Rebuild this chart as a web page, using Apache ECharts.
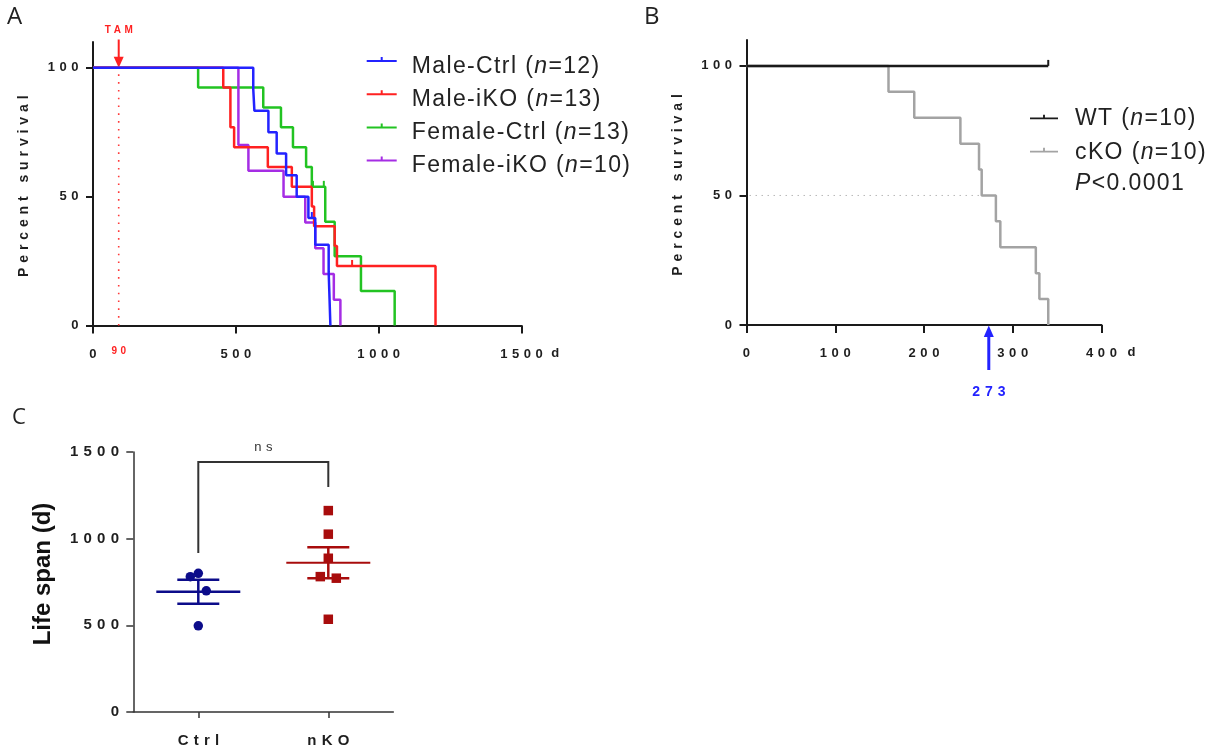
<!DOCTYPE html>
<html>
<head>
<meta charset="utf-8">
<script src="https://cdn.jsdelivr.net/npm/echarts@6/dist/echarts.min.js"></script>
<style>
  html, body { margin: 0; padding: 0; background: #ffffff; }
  #chart { width: 1225px; height: 753px; }
</style>
</head>
<body>
<div id="chart"></div>
<script>
// ---------- Panel A: inducible knockout survival (days) ----------
const groupsA = ['Male-Ctrl', 'Male-iKO', 'Female-Ctrl', 'Female-iKO'];
const groupSizesA = [12, 13, 13, 10];
const maleCtrlSteps = [[0, 100], [561, 91.7], [565, 83.3], [614, 75], [643, 66.7], [676, 58.3], [713, 50], [754, 41.7], [778, 31.3], [825, 20.8], [828, 10.4], [831, 0]];
const maleIkoSteps = [[0, 100], [456, 92.3], [481, 76.9], [494, 69.2], [612, 61.5], [696, 53.8], [766, 46.2], [774, 38.5], [846, 30.8], [854, 23.1], [1199, 0]];
const femaleCtrlSteps = [[0, 100], [368, 92.3], [596, 84.6], [658, 76.9], [700, 69.2], [746, 61.5], [766, 53.8], [813, 40.3], [846, 26.9], [938, 13.4], [1056, 0]];
const femaleIkoSteps = [[0, 100], [509, 70], [544, 60], [667, 50], [743, 40], [778, 30], [807, 20], [843, 10], [866, 0]];
const maleCtrlCensored = [[766, 41.7]];
const maleIkoCensored = [[907, 23.1]];
const femaleCtrlCensored = [[770, 53.8], [808, 53.8]];
const tamDay = 90;
const dayTicksA = [0, 500, 1000, 1500];
const survivalTicks = [0, 50, 100];

// ---------- Panel B: conditional knockout survival ----------
const groupsB = ['WT', 'cKO'];
const groupSizesB = [10, 10];
const wtSteps = [[0, 100], [340, 100]];
const ckoSteps = [[0, 100], [160, 90], [189, 80], [241, 70], [262, 60], [265, 50], [281, 40], [286, 30], [326, 20], [330, 10], [340, 0]];
const wtCensored = [[340, 100]];
const medianDayB = 273;
const dayTicksB = [0, 100, 200, 300, 400];

// ---------- Panel C: life span ----------
const lifespanGroups = ['Ctrl', 'nKO'];
const ctrlLifespan = [800, 781, 699, 497];
const nkoLifespan = [1162, 1026, 887, 781, 772, 535];
const lifespanTicks = [0, 500, 1000, 1500];

// horizontal spread of overlapping points (pixels)
const ctrlJitter = [0, -8, 8, 0];
const nkoJitter = [0, 0, 0, -8, 8, 0];

// Wide tracking for the small bold figure labels, lighter tracking for the legend text.
(function () {
  const proto = CanvasRenderingContext2D.prototype;
  if (!('letterSpacing' in proto)) return;
  const trackingFor = function (font) {
    if (font.indexOf('Liberation Sans') < 0) return 0;
    const m = /([\d.]+)px/.exec(font);
    const px = m ? parseFloat(m[1]) : 12;
    if (px <= 16) return px * 0.35;
    return /bold|[6-9]00/.test(font) ? 0 : px * 0.06;
  };
  ['fillText', 'strokeText', 'measureText'].forEach(function (fn) {
    const orig = proto[fn];
    proto[fn] = function () {
      this.letterSpacing = trackingFor(this.font) + 'px';
      return orig.apply(this, arguments);
    };
  });
})();

const FONT = 'Liberation Sans';
const INK = '#1a1a1a';
const BLUE = '#2323ff';
const RED = '#ff2121';
const GREEN = '#22c322';
const PURPLE = '#a52de4';
const GREY = '#a3a3a3';
const NAVY = '#0c0c8a';
const CRIMSON = '#a80c0c';

const plainNumber = function (v) { return String(v); };
const tickText = { fontFamily: FONT, fontWeight: 'bold', fontSize: 13, color: '#1e1e1e' };
const axisLine = { show: true, onZero: false, lineStyle: { color: INK, width: 2 } };
const legendIcon = 'path://M14,0h2v4h-2z M0,3h30v2h-30z';

function stepSeries(name, steps, color, axis) {
  return {
    name: name, type: 'line', xAxisIndex: axis, yAxisIndex: axis,
    data: steps, step: 'end', showSymbol: false, symbol: 'none',
    lineStyle: { color: color, width: 2.5 }, itemStyle: { color: color },
    z: 3, silent: true
  };
}
function censorSeries(name, points, color, axis) {
  return {
    name: name, type: 'scatter', xAxisIndex: axis, yAxisIndex: axis,
    data: points, symbol: 'rect', symbolSize: [2, 6], symbolOffset: [0, -3],
    itemStyle: { color: color, opacity: 1 }, z: 4, silent: true
  };
}
function meanSem(values) {
  const n = values.length;
  const mean = values.reduce(function (a, b) { return a + b; }, 0) / n;
  const sd = Math.sqrt(values.reduce(function (a, v) { return a + (v - mean) * (v - mean); }, 0) / (n - 1));
  return [mean, sd / Math.sqrt(n)];
}
function legendFormatter(names, sizes) {
  return function (name) {
    return name + ' ({i|n}=' + sizes[names.indexOf(name)] + ')';
  };
}
function legendText(padding) {
  return {
    fontFamily: FONT, fontWeight: 'normal', fontSize: 23, lineHeight: 22, color: '#222222', padding: padding,
    rich: { i: { fontFamily: FONT, fontWeight: 'normal', fontStyle: 'italic', fontSize: 23, lineHeight: 22, color: '#222222' } }
  };
}
function survivalYAxis(grid) {
  return {
    gridIndex: grid, type: 'value', min: 0, max: 110, interval: 50,
    axisLine: axisLine,
    axisTick: { show: true, length: 7, customValues: survivalTicks, lineStyle: { color: INK, width: 2 } },
    axisLabel: Object.assign({ margin: 10, customValues: survivalTicks, formatter: plainNumber }, tickText),
    splitLine: { show: false },
    name: 'Percent survival', nameLocation: 'middle', nameGap: 59,
    nameTextStyle: { fontFamily: FONT, fontWeight: 'bold', fontSize: 14, color: '#1e1e1e' }
  };
}
function dayXAxis(grid, ticks, gap) {
  return {
    gridIndex: grid, type: 'value', min: ticks[0], max: ticks[ticks.length - 1], interval: ticks[1] - ticks[0],
    axisLine: axisLine,
    axisTick: { show: true, length: 8, lineStyle: { color: INK, width: 2 } },
    axisLabel: Object.assign({ margin: 20, padding: [0, 0, 0, 4.5], formatter: plainNumber }, tickText),
    splitLine: { show: false },
    name: 'd', nameLocation: 'end', nameGap: gap,
    nameTextStyle: Object.assign({ verticalAlign: 'top', lineHeight: 13, padding: [21, 0, 0, 0] }, tickText)
  };
}

const lifespanStats = [meanSem(ctrlLifespan), meanSem(nkoLifespan)];
const lifespanColors = [NAVY, CRIMSON];
const halfReachedDay = ckoSteps.find(function (p) { return p[1] <= 50; })[0];

const option = {
  animation: false,
  backgroundColor: '#ffffff',
  textStyle: { fontFamily: FONT },
  title: [
    { text: 'A', left: 7, top: 5, padding: 0, textStyle: { fontFamily: 'Open Sans', fontWeight: 'normal', fontSize: 24, color: '#222222' } },
    { text: 'B', left: 644, top: 5, padding: 0, textStyle: { fontFamily: 'Open Sans', fontWeight: 'normal', fontSize: 24, color: '#222222' } },
    { text: 'C', left: 12, top: 407, padding: 0, textStyle: { fontFamily: 'Open Sans', fontWeight: 'normal', fontSize: 22, color: '#222222' } },
    { text: '{i|P}<0.0001', left: 1075, top: 173, padding: 0, textStyle: legendText([0, 0, 0, 0]) }
  ],
  legend: [
    {
      data: groupsA, orient: 'vertical', left: 366.7, top: 41.5, padding: 0, itemGap: -4,
      icon: legendIcon, itemWidth: 30, itemHeight: 5, selectedMode: false,
      itemStyle: { borderWidth: 0 },
      formatter: legendFormatter(groupsA, groupSizesA),
      textStyle: legendText([14, 0, 0, 10])
    },
    {
      data: groupsB, orient: 'vertical', left: 1030, top: 104, padding: 0, itemGap: 6,
      icon: legendIcon, itemWidth: 28, itemHeight: 5, selectedMode: false,
      itemStyle: { borderWidth: 0 },
      formatter: legendFormatter(groupsB, groupSizesB),
      textStyle: legendText([4, 0, 0, 12])
    }
  ],
  grid: [
    { left: 93, top: 42, width: 428.5, height: 283.5 },
    { left: 746.5, top: 40, width: 355, height: 285 },
    { left: 133.3, top: 452, width: 260, height: 260 }
  ],
  xAxis: [
    dayXAxis(0, dayTicksA, 25),
    dayXAxis(1, dayTicksB, 26),
    {
      gridIndex: 2, type: 'category', data: lifespanGroups, boundaryGap: true,
      axisLine: { show: true, lineStyle: { color: '#333333', width: 1.5 } },
      axisTick: { show: true, alignWithLabel: true, length: 6, lineStyle: { color: '#333333', width: 1.5 } },
      axisLabel: { margin: 19, padding: [0, 0, 0, 5.5], fontFamily: FONT, fontWeight: 'bold', fontSize: 15, color: '#1e1e1e' },
      splitLine: { show: false }
    }
  ],
  yAxis: [
    survivalYAxis(0),
    survivalYAxis(1),
    {
      gridIndex: 2, type: 'value', min: lifespanTicks[0], max: lifespanTicks[lifespanTicks.length - 1],
      interval: lifespanTicks[1] - lifespanTicks[0],
      axisLine: { show: true, onZero: false, lineStyle: { color: '#333333', width: 1.5 } },
      axisTick: { show: true, length: 7, lineStyle: { color: '#333333', width: 1.5 } },
      axisLabel: { margin: 9, formatter: plainNumber, fontFamily: FONT, fontWeight: 'bold', fontSize: 15, color: '#1e1e1e' },
      splitLine: { show: false },
      name: 'Life span (d)', nameLocation: 'middle', nameGap: 78,
      nameTextStyle: { fontFamily: FONT, fontWeight: 'bold', fontSize: 24, color: '#111111', padding: [0, 0, 0, 16] }
    }
  ],
  series: [
    // tamoxifen marker
    {
      type: 'custom', xAxisIndex: 0, yAxisIndex: 0, z: 1, silent: true,
      data: [[tamDay, 100]],
      renderItem: function (params, api) {
        const day = api.value(0);
        const base = api.coord([day, 0]);
        const full = api.coord([day, api.value(1)]);
        const top = api.coord([day, 110]);
        return {
          type: 'group', children: [
            { type: 'line', shape: { x1: base[0], y1: base[1], x2: full[0], y2: full[1] }, style: { stroke: '#ff3a3a', lineWidth: 1.6, lineDash: [1.6, 6.2] } },
            { type: 'line', shape: { x1: top[0], y1: top[1] - 2.5, x2: full[0], y2: full[1] - 9 }, style: { stroke: RED, lineWidth: 2 } },
            { type: 'polygon', shape: { points: [[full[0] - 5, full[1] - 11], [full[0] + 5, full[1] - 11], [full[0], full[1]]] }, style: { fill: RED } },
            { type: 'text', x: top[0] + 1.8, y: top[1] - 12, style: { text: 'TAM', fill: RED, fontFamily: FONT, fontWeight: 'bold', fontSize: 10, align: 'center', verticalAlign: 'middle' } },
            { type: 'text', x: base[0] + 1.8, y: base[1] + 25.5, style: { text: String(day), fill: RED, fontFamily: FONT, fontWeight: 'bold', fontSize: 10, align: 'center', verticalAlign: 'middle' } }
          ]
        };
      }
    },
    stepSeries('Female-Ctrl', femaleCtrlSteps, GREEN, 0),
    stepSeries('Female-iKO', femaleIkoSteps, PURPLE, 0),
    stepSeries('Male-iKO', maleIkoSteps, RED, 0),
    stepSeries('Male-Ctrl', maleCtrlSteps, BLUE, 0),
    censorSeries('Female-Ctrl censored', femaleCtrlCensored, GREEN, 0),
    censorSeries('Male-iKO censored', maleIkoCensored, RED, 0),
    censorSeries('Male-Ctrl censored', maleCtrlCensored, BLUE, 0),

    // median survival of cKO
    {
      type: 'custom', xAxisIndex: 1, yAxisIndex: 1, z: 1, silent: true,
      data: [[medianDayB, 0]],
      renderItem: function (params, api) {
        const tip = api.coord([api.value(0), 0]);
        const start = api.coord([0, 50]);
        const half = api.coord([halfReachedDay, 50]);
        return {
          type: 'group', children: [
            { type: 'line', shape: { x1: start[0] + 3, y1: start[1], x2: half[0], y2: half[1] }, style: { stroke: '#b8b8b8', lineWidth: 1, lineDash: [1.5, 4.5] } },
            { type: 'polygon', shape: { points: [[tip[0], tip[1] + 0.5], [tip[0] - 5, tip[1] + 12], [tip[0] + 5, tip[1] + 12]] }, style: { fill: BLUE } },
            { type: 'line', shape: { x1: tip[0], y1: tip[1] + 11, x2: tip[0], y2: tip[1] + 45 }, style: { stroke: BLUE, lineWidth: 3 } },
            { type: 'text', x: tip[0] + 2.5, y: tip[1] + 67, style: { text: String(api.value(0)), fill: BLUE, fontFamily: FONT, fontWeight: 'bold', fontSize: 14, align: 'center', verticalAlign: 'middle' } }
          ]
        };
      }
    },
    stepSeries('cKO', ckoSteps, GREY, 1),
    stepSeries('WT', wtSteps, INK, 1),
    censorSeries('WT censored', wtCensored, INK, 1),

    // life span points
    {
      name: 'Ctrl', type: 'scatter', xAxisIndex: 2, yAxisIndex: 2, z: 3, silent: true,
      symbol: 'circle', symbolSize: 9.5, itemStyle: { color: NAVY, opacity: 1 },
      data: ctrlLifespan.map(function (v, i) { return { value: [lifespanGroups[0], v], symbolOffset: [ctrlJitter[i], 0] }; })
    },
    {
      name: 'nKO', type: 'scatter', xAxisIndex: 2, yAxisIndex: 2, z: 3, silent: true,
      symbol: 'rect', symbolSize: 9.5, itemStyle: { color: CRIMSON, opacity: 1 },
      data: nkoLifespan.map(function (v, i) { return { value: [lifespanGroups[1], v], symbolOffset: [nkoJitter[i], 0] }; })
    },
    // mean +/- SEM
    {
      type: 'custom', xAxisIndex: 2, yAxisIndex: 2, z: 4, silent: true,
      encode: { x: 0, y: 1 },
      data: lifespanGroups.map(function (g, i) { return [g, lifespanStats[i][0], lifespanStats[i][1]]; }),
      renderItem: function (params, api) {
        const cat = api.value(0);
        const mean = api.value(1);
        const sem = api.value(2);
        const mid = api.coord([cat, mean]);
        const hi = api.coord([cat, mean + sem]);
        const lo = api.coord([cat, mean - sem]);
        const color = lifespanColors[params.dataIndex];
        const w = params.dataIndex === 0 ? 2.5 : 2;
        return {
          type: 'group', children: [
            { type: 'line', shape: { x1: mid[0] - 42, y1: mid[1], x2: mid[0] + 42, y2: mid[1] }, style: { stroke: color, lineWidth: w } },
            { type: 'line', shape: { x1: hi[0], y1: hi[1], x2: lo[0], y2: lo[1] }, style: { stroke: color, lineWidth: 2.5 } },
            { type: 'line', shape: { x1: hi[0] - 21, y1: hi[1], x2: hi[0] + 21, y2: hi[1] }, style: { stroke: color, lineWidth: 2.5 } },
            { type: 'line', shape: { x1: lo[0] - 21, y1: lo[1], x2: lo[0] + 21, y2: lo[1] }, style: { stroke: color, lineWidth: 2.5 } }
          ]
        };
      }
    },
    // significance bracket
    {
      type: 'custom', xAxisIndex: 2, yAxisIndex: 2, z: 2, silent: true,
      data: [[lifespanGroups[0], 1442]],
      renderItem: function (params, api) {
        const leftFoot = api.coord([0, 917]);
        const leftTop = api.coord([0, api.value(1)]);
        const rightTop = api.coord([1, api.value(1)]);
        const rightFoot = api.coord([1, 1298]);
        return {
          type: 'group', children: [
            { type: 'polyline', shape: { points: [leftFoot, leftTop, rightTop, rightFoot] }, style: { stroke: '#333333', lineWidth: 2, fill: null } },
            { type: 'text', x: (leftTop[0] + rightTop[0]) / 2 + 2.3, y: leftTop[1] - 15, style: { text: 'ns', fill: '#333333', fontFamily: FONT, fontSize: 13, align: 'center', verticalAlign: 'middle' } }
          ]
        };
      }
    }
  ]
};

const chart = echarts.init(document.getElementById('chart'), null, { renderer: 'canvas' });
chart.setOption(option);
</script>
</body>
</html>
